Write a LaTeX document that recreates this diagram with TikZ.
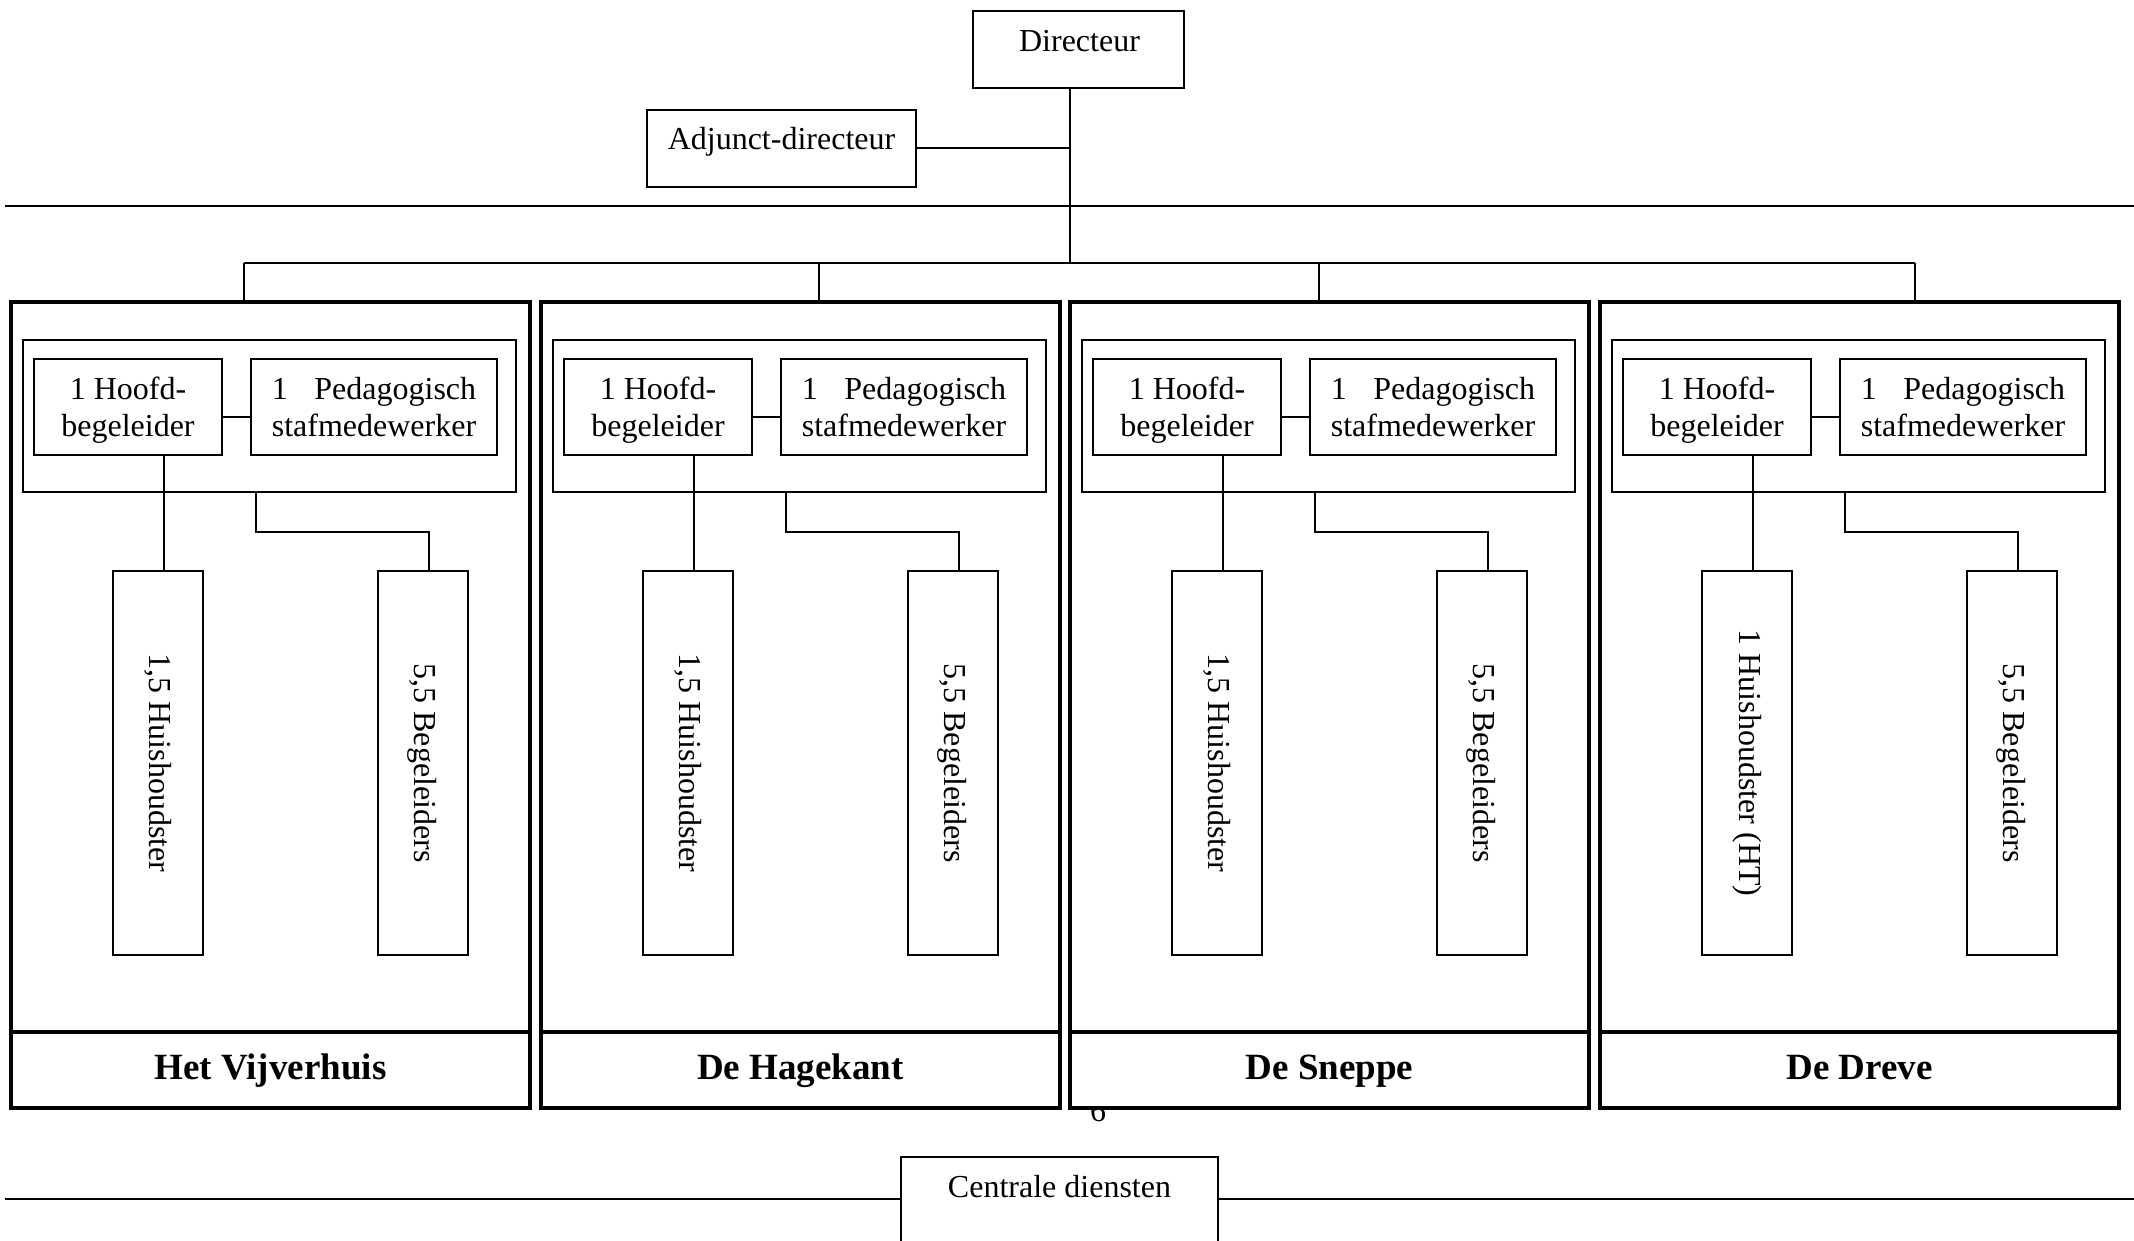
\documentclass[tikz,border=0pt]{standalone}
\usepackage{fontspec}
\setmainfont{Liberation Serif}
\usetikzlibrary{calc}
\begin{document}
\begin{tikzpicture}[x=1pt,y=-1pt,
  txt/.style={font=\fontsize{32}{37}\selectfont, inner sep=0pt},
  box/.style={draw, line width=2pt, inner sep=0pt, align=center, font=\fontsize{32}{37}\selectfont},
  pair/.style={box, minimum height=96pt, text depth=0pt},
  house/.style={draw, line width=4pt, fill=white, inner sep=0pt, minimum width=519pt},
  grp/.style={draw, line width=2pt, inner sep=0pt, minimum width=493pt, minimum height=152pt},
  vbox/.style={box, rotate=-90, minimum width=384pt, minimum height=90pt},
  lbl/.style={house, minimum height=76pt, font=\bfseries\fontsize{37}{42}\selectfont, text height=26pt, text depth=8pt},
  link/.style={line width=2pt},
  hrule/.style={line width=2.2pt}]
\path[fill=white] (0,0) rectangle (2134,1241);
\useasboundingbox (0,0) rectangle (2134,1241);

% top management
\node[box, minimum width=211pt, minimum height=77pt] (dir) at (1078.5,49.5) {};
\node[txt, anchor=base] (dirt) at (1079.5,52) {Directeur};
\node[box, minimum width=269pt, minimum height=77pt] (adj) at (781.5,148.5) {};
\node[txt, anchor=base] (adjt) at (781.5,150) {Adjunct-directeur};
\coordinate (top) at (1070,0);
\coordinate (bus) at (0,263);
\draw[link] (dir.south -| top) -- (top |- bus);
\draw[link] (adj.east) -- (adj.east -| top);

% full-width rule
\coordinate (r1a) at (5,206);
\coordinate (r1b) at (2134,206);
\draw[hrule] (r1a) -- (r1b);

% page number (partly hidden behind the boxes)
\node[txt, anchor=base] (pg) at (1098,1121) {6};

\foreach \L/\n/\name/\hu/\d in {11/1/{Het Vijverhuis}/{1,5 Huishoudster}/244,
                                541/2/{De Hagekant}/{1,5 Huishoudster}/819,
                                1070/3/{De Sneppe}/{1,5 Huishoudster}/1319,
                                1600/4/{De Dreve}/{1 Huishoudster (HT)}/1915}{
  \node[house, minimum height=730pt] (h\n) at (\L+259.5,667) {};
  \node[lbl] (l\n) at (\L+259.5,1070) {\name};
  \node[grp] (g\n) at (\L+258.5,416) {};
  \node[pair, minimum width=188pt] (hb\n) at (\L+117,407) {1 Hoofd-\\begeleider};
  \node[pair, minimum width=246pt] (pd\n) at (\L+363,407)
     {\setbox0\hbox{stafmedewerker}\hbox to\wd0{1\hfill Pedagogisch}\\stafmedewerker};
  \node[vbox] (hu\n) at (\L+147,763) {\hu};
  \node[vbox] (be\n) at (\L+411.5,763) {5,5 Begeleiders};
  \coordinate (yk\n) at (0,417);
  \draw[link] (hb\n.east |- yk\n) -- (pd\n.west |- yk\n);
  \coordinate (xa\n) at (\L+153,0);
  \draw[link] (hb\n.south -| xa\n) -- (hu\n.west -| xa\n);
  \coordinate (xb\n) at (\L+245,532);
  \coordinate (xc\n) at (\L+418,532);
  \draw[link] (g\n.south -| xb\n) -- (xb\n) -- (xc\n) -- (be\n.west -| xc\n);
  \coordinate (d\n) at (\d,263);
  \draw[link] (h\n.north -| d\n) -- (d\n);
}
\draw[link] (d1) -- (d4);

% central services
\node[box, minimum width=317pt, minimum height=120pt, anchor=north] (cd) at (1059.5,1156) {};
\node[txt, anchor=base] (cdt) at (1059.5,1197) {Centrale diensten};
\coordinate (r2a) at (5,1199);
\coordinate (r2b) at (2134,1199);
\draw[hrule] (r2a) -- (cd.west |- r2a);
\draw[hrule] (cd.east |- r2a) -- (r2b);
\end{tikzpicture}
\end{document}
